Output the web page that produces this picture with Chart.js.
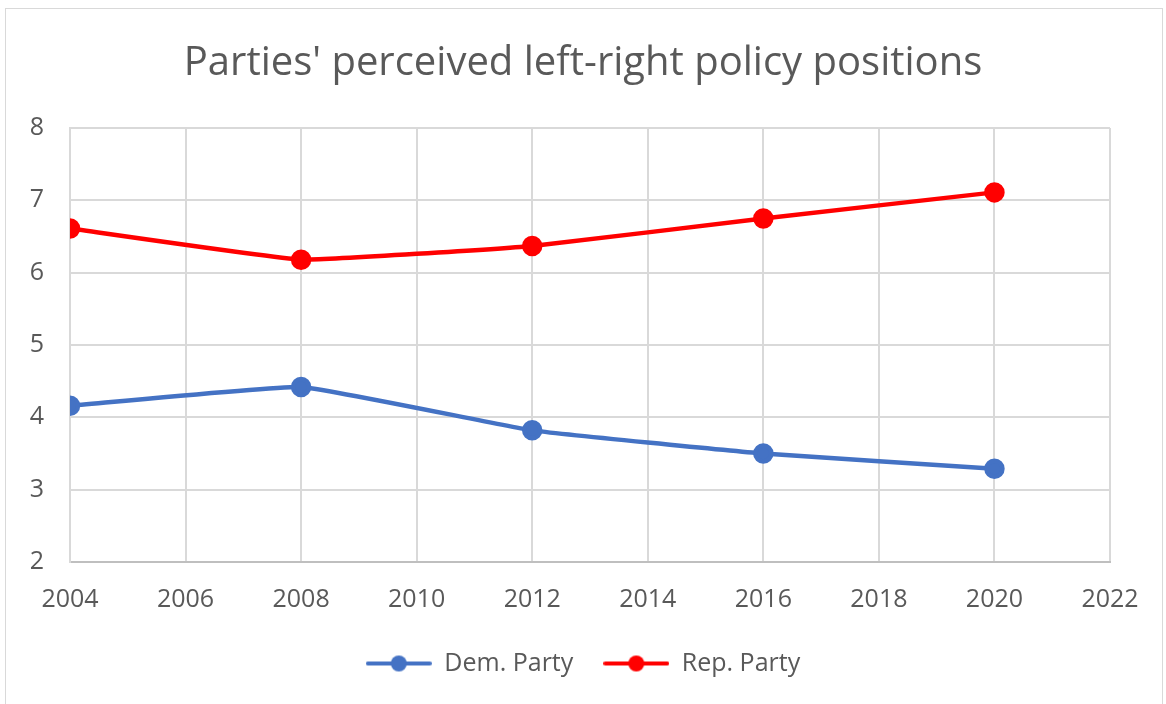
<!DOCTYPE html>
<html>
<head>
<meta charset="utf-8">
<script src="https://cdn.jsdelivr.net/npm/chart.js@4.4.1/dist/chart.umd.min.js"></script>
<style>
    body { margin: 0; background: #fff; }
    #wrap { position: relative; width: 1166px; height: 704px; }
    #frame { position: absolute; left: 5px; top: 8px; width: 1158px; height: 700px; border: 1px solid #d9d9d9; box-sizing: border-box; pointer-events: none; }
</style>
</head>
<body>
<div id="wrap">
    <canvas id="chart" width="1166" height="704"></canvas>
    <div id="frame"></div>
</div>
<script>
// Survey years and perceived positions (0 = left, 10 = right)
const years = [2004, 2008, 2012, 2016, 2020];
const demValues = [4.16, 4.42, 3.82, 3.50, 3.29];
const repValues = [6.61, 6.18, 6.37, 6.75, 7.11];
const xTicks = [2004, 2006, 2008, 2010, 2012, 2014, 2016, 2018, 2020, 2022];
const yTicks = [2, 3, 4, 5, 6, 7, 8];

const textColor = '#595959';
const gridColor = '#d9d9d9';
const fontFamily = '"Open Sans", "DejaVu Sans", sans-serif';

// Legend marker: short line with a dot in the middle, like Excel
function legendMarker(color) {
    const c = document.createElement('canvas');
    c.width = 66;
    c.height = 18;
    const ctx = c.getContext('2d');
    ctx.strokeStyle = color;
    ctx.lineWidth = 4;
    ctx.lineCap = 'round';
    ctx.beginPath();
    ctx.moveTo(2, 9);
    ctx.lineTo(64, 9);
    ctx.stroke();
    ctx.fillStyle = color;
    ctx.beginPath();
    ctx.arc(33, 9, 8, 0, Math.PI * 2);
    ctx.fill();
    return c;
}

function toPoints(values) {
    return years.map((yr, i) => ({ x: yr, y: values[i] }));
}

const ctx = document.getElementById('chart').getContext('2d');
new Chart(ctx, {
    type: 'line',
    data: {
        datasets: [
            {
                label: 'Dem. Party',
                data: toPoints(demValues),
                borderColor: '#4472c4',
                backgroundColor: '#4472c4',
                borderWidth: 4.5,
                pointRadius: 8,
                pointHoverRadius: 8,
                tension: 0.1,
                pointStyle: 'circle',
                legendImage: legendMarker('#4472c4')
            },
            {
                label: 'Rep. Party',
                data: toPoints(repValues),
                borderColor: '#ff0000',
                backgroundColor: '#ff0000',
                borderWidth: 4.5,
                pointRadius: 8,
                pointHoverRadius: 8,
                tension: 0.1,
                pointStyle: 'circle',
                legendImage: legendMarker('#ff0000')
            }
        ]
    },
    options: {
        responsive: false,
        animation: false,
        layout: { padding: { top: 40, right: 0, bottom: 18, left: 0 } },
        plugins: {
            title: {
                display: true,
                text: "Parties' perceived left-right policy positions",
                color: textColor,
                font: { family: fontFamily, size: 40, weight: 'normal' },
                padding: { top: 0, bottom: 40 }
            },
            legend: {
                position: 'bottom',
                labels: {
                    color: textColor,
                    font: { family: fontFamily, size: 25 },
                    usePointStyle: true,
                    pointStyleWidth: 66,
                    boxHeight: 18,
                    padding: 30,
                    generateLabels: function(chart) {
                        return chart.data.datasets.map((ds, i) => ({
                            text: ds.label,
                            fontColor: textColor,
                            pointStyle: ds.legendImage,
                            datasetIndex: i,
                            hidden: false,
                            lineWidth: 0,
                            strokeStyle: 'transparent',
                            fillStyle: 'transparent'
                        }));
                    }
                }
            },
            tooltip: { enabled: false }
        },
        scales: {
            x: {
                type: 'linear',
                min: 2004,
                max: 2022,
                afterBuildTicks: function(scale) {
                    scale.ticks = xTicks.map(v => ({ value: v }));
                },
                afterFit: function(scale) { scale.height = 59; },
                ticks: {
                    color: textColor,
                    font: { family: fontFamily, size: 25 },
                    padding: 23,
                    maxRotation: 0,
                    callback: v => String(v)
                },
                grid: { color: gridColor, lineWidth: 2, drawTicks: false },
                border: { color: '#bfbfbf', width: 2 }
            },
            y: {
                min: 2,
                max: 8,
                afterBuildTicks: function(scale) {
                    scale.ticks = yTicks.map(v => ({ value: v }));
                },
                afterFit: function(scale) { scale.width = 70; },
                ticks: {
                    color: textColor,
                    font: { family: fontFamily, size: 25 },
                    padding: 26
                },
                grid: { color: gridColor, lineWidth: 2, drawTicks: false },
                border: { color: gridColor, width: 2 }
            },
            // empty right-hand axis, only to keep the right margin so title and legend stay centred
            yRight: {
                position: 'right',
                min: 2,
                max: 8,
                afterFit: function(scale) { scale.width = 56; },
                ticks: { display: false },
                grid: { display: false, drawTicks: false },
                border: { display: false }
            }
        }
    }
});
</script>
</body>
</html>
